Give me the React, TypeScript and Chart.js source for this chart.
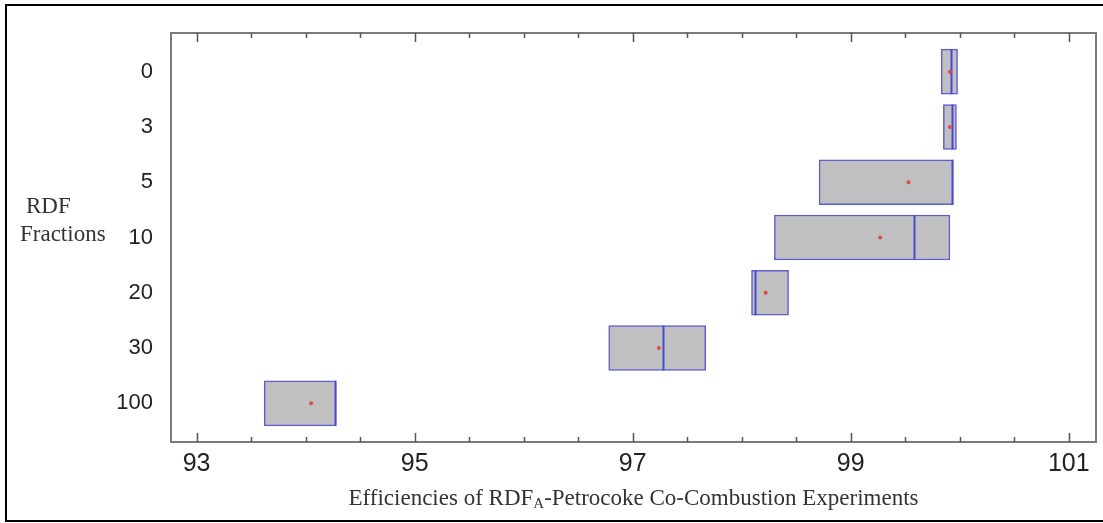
import React, { useEffect, useRef } from "react";
import { Chart, registerables } from "chart.js";

Chart.register(...registerables);

// ---- data ----
const categories = ["0", "3", "5", "10", "20", "30", "100"];
const boxLow = [99.83, 99.85, 98.71, 98.3, 98.09, 96.78, 93.62];
const boxHigh = [99.98, 99.97, 99.94, 99.91, 98.43, 97.67, 94.28];
const medians = [99.92, 99.93, 99.93, 99.58, 98.12, 97.28, 94.27];
const means = [99.91, 99.91, 99.53, 99.27, 98.22, 97.24, 94.05];
const xTickValues = [93, 95, 97, 99, 101];
const xMinorTickValues = [93.5, 94, 94.5, 95.5, 96, 96.5, 97.5, 98, 98.5, 99.5, 100, 100.5];
const xTitleParts = ["Efficiencies of RDF", "A", "-Petrocoke Co-Combustion Experiments"];
const yTitleLines = ["RDF", "Fractions"];

const BOX_FILL = "#c0c0c2";
const BOX_EDGE = "#5e5ecc";
const MEDIAN_COLOR = "#4848d0";
const MEAN_COLOR = "#e04848";
const FRAME = "#7a7a7a";

const decor = {
  id: "decor",
  afterDatasetDraw(chart: any, args: any) {
    if (args.index !== 0) return;
    const { ctx } = chart;
    const xs = chart.scales.x;
    const meta = chart.getDatasetMeta(0);
    meta.data.forEach((bar: any, i: number) => {
      const px = Math.round(xs.getPixelForValue(medians[i])) + 0.5;
      const h = bar.height;
      ctx.save();
      ctx.strokeStyle = MEDIAN_COLOR;
      ctx.lineWidth = 2;
      ctx.beginPath();
      ctx.moveTo(px, bar.y - h / 2);
      ctx.lineTo(px, bar.y + h / 2);
      ctx.stroke();
      ctx.restore();
    });
  },
  afterDraw(chart: any) {
    const { ctx, chartArea: a } = chart;
    const xs = chart.scales.x;
    ctx.save();
    // plot frame
    ctx.strokeStyle = FRAME;
    ctx.lineWidth = 2;
    ctx.strokeRect(a.left, a.top, a.right - a.left, a.bottom - a.top);
    // inward ticks top & bottom
    ctx.lineWidth = 1.5;
    ctx.strokeStyle = "#555";
    const drawTick = (v: number, len: number) => {
      const px = Math.round(xs.getPixelForValue(v)) + 0.5;
      ctx.beginPath();
      ctx.moveTo(px, a.bottom);
      ctx.lineTo(px, a.bottom - len);
      ctx.moveTo(px, a.top);
      ctx.lineTo(px, a.top + len);
      ctx.stroke();
    };
    xTickValues.forEach((v) => drawTick(v, 9));
    xMinorTickValues.forEach((v) => drawTick(v, 5));

    // x title with subscript
    ctx.fillStyle = "#333";
    ctx.textBaseline = "alphabetic";
    ctx.textAlign = "left";
    const big = '23px "Liberation Serif"';
    const small = '15px "Liberation Serif"';
    ctx.font = big;
    const w0 = ctx.measureText(xTitleParts[0]).width;
    const w2 = ctx.measureText(xTitleParts[2]).width;
    ctx.font = small;
    const w1 = ctx.measureText(xTitleParts[1]).width;
    const total = w0 + w1 + w2;
    const cx = (a.left + a.right) / 2;
    let sx = cx - total / 2;
    const baseY = 505;
    ctx.font = big;
    ctx.fillText(xTitleParts[0], sx, baseY);
    sx += w0;
    ctx.font = small;
    ctx.fillText(xTitleParts[1], sx, baseY + 3);
    sx += w1;
    ctx.font = big;
    ctx.fillText(xTitleParts[2], sx, baseY);

    // y title
    ctx.font = '23px "Liberation Serif"';
    ctx.fillText(yTitleLines[0], 26, 213);
    ctx.fillText(yTitleLines[1], 20, 241);

    // outer border
    ctx.strokeStyle = "#000";
    ctx.lineWidth = 2;
    ctx.strokeRect(6, 5, 1110, 516);
    ctx.restore();
  },
};

export default function App() {
  const ref = useRef<HTMLCanvasElement | null>(null);
  useEffect(() => {
    if (!ref.current) return;
    const chart = new Chart(ref.current, {
      type: "bar",
      data: {
        datasets: [
          {
            type: "bar",
            order: 2,
            data: categories.map((_, i) => ({ y: i, x: [boxLow[i], boxHigh[i]] })) as any,
            backgroundColor: BOX_FILL,
            borderColor: BOX_EDGE,
            borderWidth: 1.5,
            borderSkipped: false,
            barThickness: 45,
          },
          {
            type: "scatter",
            order: 1,
            data: categories.map((_, i) => ({ x: means[i], y: i })),
            backgroundColor: MEAN_COLOR,
            borderColor: MEAN_COLOR,
            pointRadius: 2,
            borderWidth: 0,
          } as any,
        ],
      },
      options: {
        indexAxis: "y",
        animation: false,
        responsive: false,
        maintainAspectRatio: false,
        layout: { padding: { top: 33, right: 7, left: 0, bottom: 0 } },
        plugins: { legend: { display: false }, tooltip: { enabled: false } },
        scales: {
          x: {
            type: "linear",
            min: 92.765,
            max: 101.25,
            offset: false,
            grid: { display: false, drawTicks: false },
            border: { display: false },
            afterBuildTicks: (s: any) => {
              s.ticks = xTickValues.map((v) => ({ value: v }));
            },
            afterFit: (s: any) => {
              s.height = 81;
            },
            ticks: {
              padding: 7,
              maxRotation: 0,
              autoSkip: false,
              color: "#222",
              font: { family: "Liberation Sans", size: 25 },
              callback: (v: any) => String(v),
            },
          },
          y: {
            type: "linear",
            min: -0.7,
            max: 6.7,
            reverse: true,
            offset: false,
            grid: { display: false, drawTicks: false },
            border: { display: false },
            afterBuildTicks: (s: any) => {
              s.ticks = categories.map((_, i) => ({ value: i }));
            },
            afterFit: (s: any) => {
              s.width = 171;
            },
            ticks: {
              padding: 18,
              autoSkip: false,
              color: "#222",
              font: { family: "Liberation Sans", size: 22 },
              callback: (v: any) => categories[v as number] ?? "",
            },
          },
        },
      },
      plugins: [decor],
    });
    return () => chart.destroy();
  }, []);
  return (
    <div style={{ position: "fixed", left: 0, top: 0, width: 1103, height: 523, background: "#fff" }}>
      <canvas ref={ref} width={1103} height={523} style={{ display: "block", width: 1103, height: 523 }} />
    </div>
  );
}
